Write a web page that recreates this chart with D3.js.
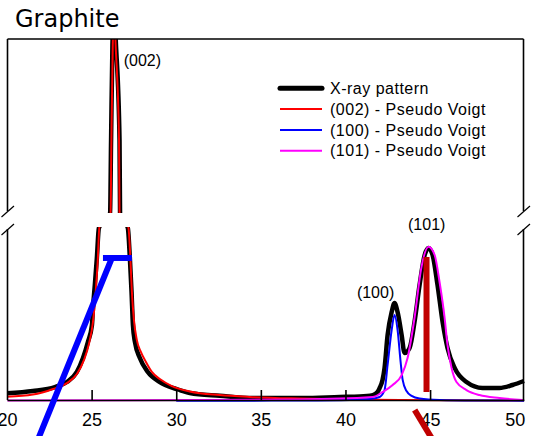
<!DOCTYPE html>
<html><head><meta charset="utf-8">
<script src="https://cdn.jsdelivr.net/npm/d3@7"></script>
<style>body{margin:0;background:#fff}svg{display:block}</style>
</head><body><svg id="c" width="533" height="436"></svg>
<script>
// ---- data (2θ in degrees, intensity in arbitrary units) ----
const xTicks = [20, 25, 30, 35, 40, 45, 50];
const xrayPattern = [[20.0,44],[21.53,57],[22.83,80],[23.54,109],[24.13,167],[24.49,247],[24.78,339],[25.02,437],[25.08,534],[25.19,667],[25.31,822],[25.43,994],[26.09,2000],[26.15,6195],[26.23,11655],[26.34,13500],[26.44,11655],[26.65,6195],[26.68,2000],[27.14,994],[27.26,822],[27.36,626],[27.44,437],[27.56,339],[27.85,247],[28.32,167],[29.03,109],[29.80,75],[30.21,63],[30.80,46],[32.57,30],[34.52,17],[37.47,17],[39.66,23],[40.84,26],[41.61,34],[41.90,52],[42.02,75],[42.19,121],[42.31,190],[42.49,379],[42.73,511],[42.90,563],[43.08,511],[43.32,379],[43.49,276],[43.79,305],[44.08,454],[44.38,667],[44.68,839],[44.91,879],[45.15,839],[45.44,667],[45.74,454],[46.03,305],[46.45,190],[47.15,109],[48.10,75],[49.10,75],[49.87,92],[50.55,115]];
const fit002 = [[20.0,25],[21.53,37],[22.72,69],[23.54,103],[24.13,155],[24.55,236],[24.84,328],[25.08,454],[25.25,638],[25.37,822],[25.46,1006],[26.12,2000],[26.17,6195],[26.25,11655],[26.34,13500],[26.42,11655],[26.62,6195],[26.65,2000],[27.17,1006],[27.29,822],[27.38,626],[27.50,466],[27.67,351],[27.91,282],[28.21,224],[28.56,167],[29.03,126],[29.74,86],[30.80,55],[32.57,34],[34.34,23],[37.30,14],[40.25,9],[43.20,6],[46.15,4],[50.55,3]];
const fit100 = [[30.0,1],[37.30,3],[40.25,6],[41.43,11],[42.02,23],[42.31,63],[42.49,207],[42.73,408],[42.90,494],[43.08,408],[43.26,224],[43.38,121],[43.61,57],[43.91,29],[44.38,14],[45.56,6],[47.92,3],[50.55,2]];
const fit101 = [[20.0,3],[31.39,6],[37.30,9],[41.61,23],[42.20,52],[42.79,92],[43.32,149],[43.67,247],[44.08,477],[44.48,764],[44.91,887],[45.27,839],[45.56,684],[45.86,477],[46.03,322],[46.27,190],[46.56,109],[47.15,63],[47.92,34],[49.10,17],[50.46,6]];
const peakLabels = [["(002)", 28.0, 10420], ["(101)", 44.8, 983], ["(100)", 41.78, 592]];
const legendNames = ["X-ray pattern", "(002) - Pseudo Voigt", "(100) - Pseudo Voigt", "(101) - Pseudo Voigt"];
const legendColors = ["#000000", "#ff0000", "#0000ff", "#ff00ff"];
const blueMarkDiag = [[21.75,-240],[26.2,822]];
const blueMarkBar = [[25.67,822],[27.38,822]];
const redMarkVert = [[44.79,52],[44.79,828]];
const redMarkDiag = [[44.09,-52],[45.09,-213]];

// ---- layout ----
const svg = d3.select("#c");
const L = 7.5, R = 523.5, T = 39, B = 400;
const lowTop = 227, upBot = 213;
const x = d3.scaleLinear().domain([20, 50.55]).range([7, 524]);
const y = d3.scaleLinear().domain([0, 1000, 2000, 12000]).range([401, lowTop, upBot, 39]);

const defs = svg.append("defs");
defs.append("clipPath").attr("id","clipLow").append("rect").attr("x",L).attr("y",lowTop).attr("width",R-L+2).attr("height",436-lowTop);
defs.append("clipPath").attr("id","clipUp").append("rect").attr("x",L).attr("y",T).attr("width",R-L).attr("height",upBot-T);

const line = d3.line().x(d=>x(d[0])).y(d=>y(d[1])).curve(d3.curveMonotoneX);

const series = [[xrayPattern,"#000",4.5],[fit002,"#ff0000",2],[fit100,"#0000ff",2],[fit101,"#ff00ff",2]];
["clipLow","clipUp"].forEach(cid=>{
  const g = svg.append("g").attr("clip-path",`url(#${cid})`);
  series.forEach(([data,col,w])=>{
    g.append("path").datum(data).attr("d",line).attr("fill","none")
      .attr("stroke",col).attr("stroke-width",w).attr("stroke-linejoin","round");
  });
});

// ---- frame ----
const fr = svg.append("g").attr("stroke","#000").attr("stroke-width",1.6).attr("fill","none");
fr.append("line").attr("x1",L).attr("x2",R).attr("y1",T).attr("y2",T);
[L,R].forEach(xx=>{
  fr.append("line").attr("x1",xx).attr("x2",xx).attr("y1",T).attr("y2",211);
  fr.append("line").attr("x1",xx).attr("x2",xx).attr("y1",229).attr("y2",B);
  fr.append("line").attr("x1",xx-6).attr("x2",xx+6.5).attr("y1",217).attr("y2",206).attr("stroke-width",1.2);
  fr.append("line").attr("x1",xx-6).attr("x2",xx+6.5).attr("y1",235).attr("y2",224).attr("stroke-width",1.2);
});

// ---- x axis ----
const ax = svg.append("g").attr("transform",`translate(0,${B})`)
  .call(d3.axisBottom(x).tickValues(xTicks).tickSizeInner(-10).tickSizeOuter(0).tickFormat(d3.format("d")));
ax.select(".domain").attr("stroke","#000").attr("stroke-width",1.6);
ax.selectAll(".tick line").attr("stroke","#000").attr("stroke-width",1.6)
  .attr("opacity",d=>(d===20||d===50)?0:1);
ax.selectAll(".tick text").attr("y",26).attr("dy",0).attr("font-size",18)
  .attr("font-family","Arial, 'Liberation Sans', sans-serif").attr("fill","#000");

// ---- annotation marks ----
const seg = d3.line().x(d=>x(d[0])).y(d=>y(d[1]));
svg.append("path").datum(blueMarkDiag).attr("d",seg).attr("stroke","#0000ff").attr("stroke-width",6).attr("fill","none");
svg.append("path").datum(blueMarkBar).attr("d",seg).attr("stroke","#0000ff").attr("stroke-width",6).attr("fill","none");
svg.append("path").datum(redMarkVert).attr("d",seg).attr("stroke","#c00000").attr("stroke-width",6).attr("fill","none");
svg.append("path").datum(redMarkDiag).attr("d",seg).attr("stroke","#c00000").attr("stroke-width",6).attr("fill","none");

// ---- peak labels ----
svg.selectAll("text.pk").data(peakLabels).join("text").attr("class","pk")
  .attr("x",d=>x(d[1])).attr("y",d=>y(d[2])).attr("text-anchor","middle")
  .attr("font-size",16).attr("font-family","Arial, 'Liberation Sans', sans-serif").text(d=>d[0]);

// ---- legend ----
const lg = svg.append("g");
legendNames.forEach((name,i)=>{
  const yy = 88.3 + i*20.8;
  lg.append("line").attr("x1",280).attr("x2",322).attr("y1",yy).attr("y2",yy)
    .attr("stroke",legendColors[i]).attr("stroke-width",i===0?5:2).attr("stroke-linecap",i===0?"round":"butt");
  lg.append("text").attr("x",330).attr("y",yy+5.7).attr("font-size",16).attr("letter-spacing",0.5)
    .attr("font-family","Arial, 'Liberation Sans', sans-serif").text(name);
});

// ---- title ----
svg.append("text").attr("x",15).attr("y",27).attr("font-size",24)
  .attr("font-family","'Comic Sans MS', 'DejaVu Sans', sans-serif").text("Graphite");
</script></body></html>
